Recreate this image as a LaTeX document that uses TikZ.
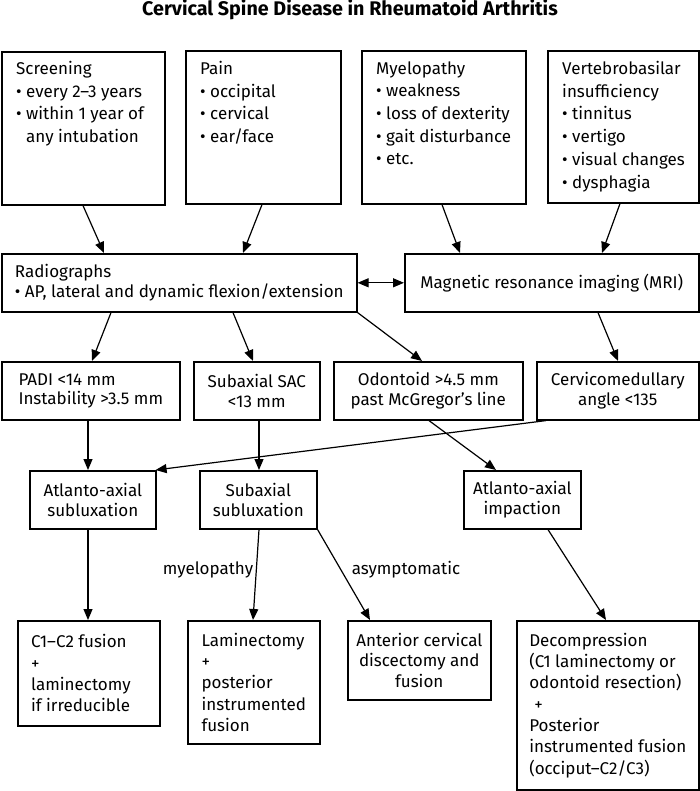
\documentclass[tikz,border=0pt]{standalone}
\usepackage{fontspec}
\setmainfont{Fira Sans}
\usetikzlibrary{arrows.meta}
\begin{document}
\begin{tikzpicture}[x=1pt,y=-1pt,
  box/.style={draw, line width=1.6pt, inner sep=0pt, align=center, anchor=north west,
    font=\fontsize{17}{19.5}\selectfont},
  lowbox/.style={box, font=\fontsize{17}{21.3}\selectfont},
  txt/.style={inner sep=0pt, anchor=north west, align=left,
    font=\fontsize{17}{22.7}\selectfont, execute at begin node=\strut},
  lowtxt/.style={inner sep=0pt, align=left, font=\fontsize{17}{21.3}\selectfont},
  lbl/.style={inner sep=0pt, font=\fontsize{17}{19}\selectfont},
  arr/.style={line width=1.2pt, -{Triangle[length=11pt,width=9pt]}},
  darr/.style={line width=1.2pt, {Triangle[length=11pt,width=9pt]}-{Triangle[length=11pt,width=9pt]}},
]
\useasboundingbox (0,0) rectangle (700,791);

% title
\node[inner sep=0pt, anchor=base, font=\fontsize{19.7}{22}\selectfont\bfseries] (title) at (350,16)
  {Cervical Spine Disease in Rheumatoid Arthritis};

% top row
\node[box, minimum width=163pt, minimum height=153pt] (screen) at (1,51) {};
\node[box, minimum width=155pt, minimum height=153pt] (pain) at (185,50) {};
\node[box, minimum width=164pt, minimum height=153pt] (myel) at (361,50) {};
\node[box, minimum width=151pt, minimum height=152pt] (vert) at (547,50) {};

\node[txt] (screenT) at (16,61.1) {Screening\\• every 2–3 years\\• within 1 year of\\\phantom{• }any intubation};
\node[txt] (painT) at (200,61.1) {Pain\\• occipital\\• cervical\\• ear/face};
\node[txt] (myelT) at (376,61.1) {Myelopathy\\• weakness\\• loss of dexterity\\• gait disturbance\\• etc.};
\node[txt] (vertT) at (562,61.1) {Vertebrobasilar\\insufficiency\\• tinnitus\\• vertigo\\• visual changes\\• dysphagia};

% second row
\node[box, align=left, minimum width=355pt, minimum height=58pt] (rad) at (1,253)
  {Radiographs\\• AP, lateral and dynamic flexion/extension};
\node[box, minimum width=294pt, minimum height=58pt] (mri) at (404,253)
  {Magnetic resonance imaging (MRI)};

% third row
\node[box, align=left, minimum width=178pt, minimum height=58pt] (padi) at (1,361)
  {PADI <14 mm\\Instability >3.5 mm};
\node[box, minimum width=126pt, minimum height=58pt] (sac) at (193,361)
  {Subaxial SAC\\<13 mm};
\node[box, minimum width=189pt, minimum height=58pt] (odon) at (333,361)
  {Odontoid >4.5 mm\\past McGregor’s line};
\node[box, minimum width=162pt, minimum height=58pt] (cerv) at (536,361)
  {Cervicomedullary\\angle <135};

% fourth row
\node[box, minimum width=126pt, minimum height=58pt] (aas) at (29,470)
  {Atlanto-axial\\subluxation};
\node[box, minimum width=117pt, minimum height=58pt] (subs) at (199,470)
  {Subaxial\\subluxation};
\node[box, minimum width=117pt, minimum height=58pt] (aai) at (463,470)
  {Atlanto-axial\\impaction};

% bottom row
\node[lowbox, minimum width=142pt, minimum height=105pt] (c12) at (17,620) {};
\node[lowtxt, anchor=west] (c12T) at ([xshift=14pt]c12.west)
  {C1–C2 fusion\\+\\laminectomy\\if irreducible};
\node[lowbox, align=left, minimum width=132pt, minimum height=123pt] (lam) at (187,620)
  {Laminectomy\\+\\posterior\\instrumented\\fusion};
\node[lowbox, font=\fontsize{17}{20.5}\selectfont, minimum width=143pt, minimum height=79pt] (acd) at (347,620)
  {Anterior cervical\\discectomy and\\fusion};
\node[lowbox, align=left, minimum width=182pt, minimum height=169pt] (dec) at (516,620)
  {Decompression\\(C1 laminectomy or\\odontoid resection)\\\hspace*{5pt}+\\Posterior\\instrumented fusion\\(occiput–C2/C3)};

% labels
\node[lbl] (lmy) at (208,570) {myelopathy};
\node[lbl] (las) at (406,570) {asymptomatic};

% connectors
\draw[arr] ([xshift=82pt]screen.south west) -- ([xshift=103pt]rad.north west);
\draw[arr] ([xshift=77pt]pain.south west) -- ([xshift=242pt]rad.north west);
\draw[arr] ([xshift=81pt]myel.south west) -- ([xshift=56pt]mri.north west);
\draw[arr] ([xshift=73pt]vert.south west) -- ([xshift=198pt]mri.north west);
\draw[darr] (rad.east) -- (mri.west);

\draw[arr] ([xshift=110pt]rad.south west) -- ([xshift=91pt]padi.north west);
\draw[arr] ([xshift=232pt]rad.south west) -- ([xshift=60pt]sac.north west);
\draw[arr] (rad.south east) -- ([xshift=89pt]odon.north west);
\draw[arr] ([xshift=194pt]mri.south west) -- ([xshift=82pt]cerv.north west);

\draw[arr] ([xshift=87pt]padi.south west) -- ([xshift=59pt]aas.north west);
\draw[arr] ([xshift=66pt]sac.south west) -- ([xshift=60pt]subs.north west);
\draw[arr] ([xshift=10pt]cerv.south west) -- ([xshift=-1pt]aas.north east);
\draw[arr] ([xshift=96pt]odon.south west) -- ([xshift=33pt]aai.north west);

\draw[arr] ([xshift=59pt]aas.south west) -- ([xshift=71pt]c12.north west);
\draw[arr] ([xshift=60pt]subs.south west) -- ([xshift=66pt]lam.north west);
\draw[arr] (subs.south east) -- ([xshift=23pt]acd.north west);
\draw[arr] ([xshift=85pt]aai.south west) -- ([xshift=90pt]dec.north west);
\end{tikzpicture}
\end{document}
